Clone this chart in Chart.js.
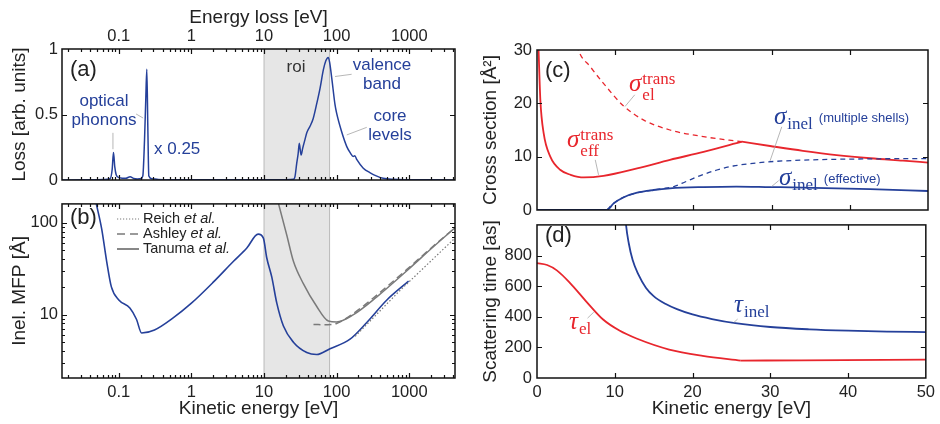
<!DOCTYPE html>
<html>
<head>
<meta charset="utf-8">
<title>Loss function, MFP, cross sections, scattering times</title>
<script src="https://cdn.jsdelivr.net/npm/chart.js@4.4.1/dist/chart.umd.min.js"></script>
<style>
  body { margin:0; background:#fff; font-family:"Liberation Sans", Arial, sans-serif; }
  #page { position:relative; width:940px; height:424px; overflow:hidden; }
  canvas { position:absolute; }
  .t { position:absolute; white-space:nowrap; line-height:1.1; }
  .cx { transform:translate(-50%,-50%); text-align:center; }
  .lx { transform:translate(0,-50%); }
  .blue { color:#25409a; }
  .red { color:#e8262d; }
  .ann { font-size:17px; }
  .tag { font-size:22px; color:#222; }
  .m { font-family:"Liberation Serif", "Times New Roman", serif; line-height:1; }
  .m i { font-size:25px; }
  .st { display:inline-block; vertical-align:middle; font-size:17px; line-height:0.95; margin-left:1px; }
  .st span { display:block; }
  .sb { font-size:17px; position:relative; top:5px; margin-left:1px; }
  .note { font-family:"Liberation Sans", Arial, sans-serif; font-size:13px; margin-left:6px; position:relative; top:-2px; }
  .leg { position:absolute; left:117px; font-size:14.5px; color:#222; transform:translate(0,-50%); white-space:nowrap; }
  .leg svg { vertical-align:middle; margin-right:4px; }
</style>
</head>
<body>
<div id="page">
  <canvas id="ca" width="470" height="200" style="left:0;top:0"></canvas>
  <canvas id="cb" width="470" height="234" style="left:0;top:190px"></canvas>
  <canvas id="cc" width="470" height="232" style="left:470px;top:0"></canvas>
  <canvas id="cd" width="470" height="214" style="left:470px;top:210px"></canvas>

  <div class="t tag lx" style="left:70px;top:69px">(a)</div>
  <div class="t ann blue cx" style="left:104px;top:111px">optical<br>phonons</div>
  <div class="t ann blue lx" style="left:154px;top:149px">x 0.25</div>
  <div class="t ann cx" style="left:296px;top:67px;color:#333">roi</div>
  <div class="t ann blue cx" style="left:382px;top:75px">valence<br>band</div>
  <div class="t ann blue cx" style="left:390px;top:126px">core<br>levels</div>

  <div class="t tag lx" style="left:70px;top:217px">(b)</div>
  <div class="leg" style="top:218px"><svg width="22" height="4"><line x1="0" y1="2" x2="22" y2="2" stroke="#7a7a7a" stroke-width="1.2" stroke-dasharray="1.2 1.8"/></svg>Reich <i>et al.</i></div>
  <div class="leg" style="top:233px"><svg width="22" height="4"><line x1="0" y1="2" x2="22" y2="2" stroke="#7a7a7a" stroke-width="1.6" stroke-dasharray="8 5"/></svg>Ashley <i>et al.</i></div>
  <div class="leg" style="top:248px"><svg width="22" height="4"><line x1="0" y1="2" x2="22" y2="2" stroke="#7a7a7a" stroke-width="1.8"/></svg>Tanuma <i>et al.</i></div>

  <div class="t tag lx" style="left:545px;top:70px">(c)</div>
  <div class="t m red lx" style="left:629px;top:87px"><i>σ</i><span class="st"><span>trans</span><span>el</span></span></div>
  <div class="t m red lx" style="left:567px;top:143px"><i>σ</i><span class="st"><span>trans</span><span>eff</span></span></div>
  <div class="t m blue lx" style="left:774px;top:115px"><i>σ</i><span class="sb">inel</span><span class="note">(multiple shells)</span></div>
  <div class="t m blue lx" style="left:779px;top:176px"><i>σ</i><span class="sb">inel</span><span class="note">(effective)</span></div>

  <div class="t tag lx" style="left:545px;top:235px">(d)</div>
  <div class="t m blue lx" style="left:734px;top:303px"><i>τ</i><span class="sb">inel</span></div>
  <div class="t m red lx" style="left:569px;top:320px"><i>τ</i><span class="sb">el</span></div>
</div>
<script>
// colores
const BLUE = '#25409a', RED = '#e8262d', GRAY = '#7a7a7a';

// (a) funcion de perdida [energia eV, valor]
const lossFn = [[0.0165,0],[0.04,0.001],[0.06,0.003],[0.069,0.005],[0.076,0.01],[0.081,0.08],[0.0844,0.21],[0.088,0.1],[0.092,0.04],[0.099,0.02],[0.11,0.014],[0.125,0.013],[0.143,0.025],[0.16,0.012],[0.18,0.008],[0.2,0.01],[0.214,0.03],[0.226,0.305],[0.235,0.61],[0.243,0.845],[0.251,0.4],[0.259,0.03],[0.285,0.01],[0.35,0.004],[0.6,0.002],[1,0.001],[10,0.001],[20,0.002],[25.5,0.005],[26.7,0.026],[28.2,0.127],[29.5,0.2],[30.6,0.28],[32.4,0.19],[34,0.24],[36.7,0.31],[38.8,0.36],[43,0.41],[47.6,0.47],[53.3,0.585],[59.1,0.7],[65.6,0.84],[71,0.91],[76.6,0.936],[80,0.9],[85.6,0.78],[95,0.575],[100,0.51],[117,0.37],[138,0.255],[155,0.205],[169,0.18],[178,0.185],[190,0.155],[233,0.09],[290,0.055],[358,0.03],[438,0.013],[600,0.005],[1000,0.002],[2000,0.001],[4270,0]];
const lossLeaders = [[0.083,0.36,0.083,0.235],[0.173,0.504,0.216,0.473],[95,0.79,161,0.807],[138,0.344,260,0.402]];
const roiRange = [10, 80];

// (b) camino libre medio [energia eV, MFP A]
const mfpCalc = [[0.045,220],[0.049,160],[0.058,86],[0.068,38],[0.079,20],[0.1,14.4],[0.142,11.8],[0.175,8.9],[0.206,6.3],[0.31,6.8],[0.56,9.2],[1,13.3],[2,22.5],[3.8,38],[5.8,53],[8.3,75],[9.8,68],[10.9,41.5],[12.8,25.5],[15,13.3],[18.5,7.5],[25.4,5.0],[38.8,3.86],[53,3.67],[81,4.25],[153,5.4],[260,8.2],[492,14.4],[980,23.1]];
const mfpTanuma = [[14,230],[15.7,165],[20.6,73],[25.4,38],[34.8,21.7],[53,12.3],[77,8.5],[100,8.3],[171,10],[358,15.6],[929,30],[2170,55],[4270,88]];
const mfpAshley = [[48,7.8],[75,7.75],[100,8.0],[171,10.3],[358,16.3],[929,31],[2170,56],[4270,88]];
const mfpReich = [[180,5.8],[752,18.4],[4270,68]];

// (c) secciones eficaces [energia eV, A^2]
const sigEffLow = [[0.15,32],[0.2,30],[0.43,20.6],[0.85,14.4],[1.7,10],[3,7.5],[4.3,6.6],[6,6.1],[8.5,6.4],[12.8,7.8],[17,9.4],[21.3,10.9],[26.2,12.8]];
const sigEffHigh = [[26.2,12.8],[29.8,12],[34,11.1],[38.3,10.3],[42.6,9.7],[46.8,9.25],[50,8.9]];
const sigEl = [[4.9,32.5],[5.3,30],[6.8,26.9],[8.5,23.75],[11,19.6],[13.6,16.9],[17,15],[21.3,13.75],[26.2,12.8]];
const sigInelMulti = [[8.94,0],[9.8,1.25],[11.1,2.4],[12.8,3.25],[14.9,3.75],[16,4.0],[17.5,4.4],[19,5.3],[20.8,6.4],[23,7.5],[25.1,8.25],[29.4,9.0],[33,9.3],[37.9,9.5],[44,9.6],[50,9.65]];
const sigInelEff = [[0,0],[8.94,0],[9.8,1.25],[11.1,2.4],[12.8,3.25],[14.9,3.75],[17,4.06],[21.3,4.3],[25.5,4.4],[29.8,4.3],[34,4.2],[38.3,4.06],[42.6,3.9],[50,3.56]];
const sigLeaders = [[11.25,19.4,12.5,21.6],[29.8,9.2,31.3,15.6],[30,4.4,30.9,5.5],[7.87,6.6,7.45,9.4]];

// (d) tiempos de dispersion [energia eV, as]
const tauElLow = [[0,750],[1.3,738],[2.55,703],[4.26,620],[6.4,496],[8.5,382],[10.6,310],[12.8,258],[17,186],[21.3,145],[26.2,114]];
const tauElHigh = [[26.2,114],[34,115],[50,120]];
const tauInel = [[11.3,1100],[11.45,1000],[11.8,880],[12.3,770],[13,680],[14,590],[15,535],[16.5,485],[18,450],[20,415],[22.5,385],[25.5,358],[30,333],[35,318],[40,309],[45,303],[50,300]];
const tauLeaders = [[6.5,391,7.3,430],[25.3,362,25.8,385]];

// ticks
const logTicks = [0.1, 1, 10, 100, 1000];
const mfpTicks = [10, 100];
const keTicks = [0, 10, 20, 30, 40, 50];
const sigTicks = [0, 10, 20, 30];
const tauTicks = [0, 200, 400, 600, 800];
const lossTicks = [0, 0.5, 1];

Chart.defaults.font.family = '"Liberation Sans", Arial, sans-serif';
Chart.defaults.color = '#222';
Chart.defaults.animation = false;
Chart.defaults.devicePixelRatio = 1;

function minors(lo, hi) {
  const out = [];
  for (let d = Math.pow(10, Math.floor(Math.log10(lo))); d < hi; d *= 10)
    for (let k = 2; k <= 9; k++) { const v = +(k * d).toPrecision(3); if (v > lo && v < hi) out.push(v); }
  return out;
}

const frame = {
  id: 'frame',
  beforeDatasetsDraw(chart, args, o) {
    if (!o.roi) return;
    const {ctx, chartArea: a, scales: {x}} = chart;
    const x1 = x.getPixelForValue(o.roi[0]), x2 = x.getPixelForValue(o.roi[1]);
    ctx.save();
    ctx.fillStyle = '#e6e6e6';
    ctx.fillRect(x1, a.top, x2 - x1, a.height);
    ctx.strokeStyle = '#bababa'; ctx.lineWidth = 1;
    ctx.beginPath();
    ctx.moveTo(x1, a.top); ctx.lineTo(x1, a.bottom);
    ctx.moveTo(x2, a.top); ctx.lineTo(x2, a.bottom);
    ctx.stroke();
    ctx.restore();
  },
  afterDatasetsDraw(chart, args, o) {
    const {ctx, chartArea: a, scales: {x, y}} = chart;
    ctx.save();
    ctx.strokeStyle = '#a5a5a5'; ctx.lineWidth = 0.8;
    (o.leaders || []).forEach(l => {
      ctx.beginPath();
      ctx.moveTo(x.getPixelForValue(l[0]), y.getPixelForValue(l[1]));
      ctx.lineTo(x.getPixelForValue(l[2]), y.getPixelForValue(l[3]));
      ctx.stroke();
    });
    ctx.strokeStyle = '#111'; ctx.lineWidth = 1.2;
    ctx.beginPath();
    const xt = (vals, len) => (vals || []).forEach(v => {
      const p = Math.round(x.getPixelForValue(v)) + 0.5;
      ctx.moveTo(p, a.bottom); ctx.lineTo(p, a.bottom - len);
      ctx.moveTo(p, a.top); ctx.lineTo(p, a.top + len);
    });
    const yt = (vals, len) => (vals || []).forEach(v => {
      const p = Math.round(y.getPixelForValue(v)) + 0.5;
      ctx.moveTo(a.left, p); ctx.lineTo(a.left + len, p);
      ctx.moveTo(a.right, p); ctx.lineTo(a.right - len, p);
    });
    xt(o.xMajor, 5); xt(o.xMinor, 3); yt(o.yMajor, 5); yt(o.yMinor, 3);
    ctx.stroke();
    ctx.lineWidth = 1.5;
    ctx.strokeRect(a.left, a.top, a.width, a.height);
    ctx.restore();
  }
};
Chart.register(frame);

function line(data, color, extra) {
  return Object.assign({
    data: data.map(p => ({x: p[0], y: p[1]})),
    borderColor: color, borderWidth: 1.6, pointRadius: 0, fill: false,
    cubicInterpolationMode: 'monotone'
  }, extra || {});
}

function axis(type, o) {
  const s = {
    type: type,
    min: o.min, max: o.max,
    position: o.pos,
    display: o.show !== false,
    grid: { display: false, drawTicks: false },
    border: { display: false },
    ticks: { font: { size: 16.5 }, color: '#222', padding: o.pad || 4, autoSkip: false, maxRotation: 0, callback: v => String(v) },
    title: { display: !!o.title, text: o.title, font: { size: 19 }, color: '#222', padding: o.tpad || 0 },
    afterBuildTicks: sc => { sc.ticks = o.ticks.map(v => ({ value: v })); }
  };
  if (o.size) s.afterFit = sc => { if (sc.isHorizontal()) sc.height = o.size; else sc.width = o.size; };
  return s;
}

function chart(id, datasets, padding, scales, frameOpts) {
  return new Chart(document.getElementById(id), {
    type: 'line',
    data: { datasets: datasets },
    options: {
      responsive: false, maintainAspectRatio: false, animation: false,
      layout: { padding: padding },
      scales: scales,
      plugins: { legend: { display: false }, tooltip: { enabled: false }, frame: frameOpts }
    }
  });
}

// (a)
chart('ca', [line(lossFn, BLUE, { borderWidth: 1.5 })],
  { left: 0, right: 15, top: 0, bottom: 20 },
  {
    x: axis('logarithmic', { min: 0.0165, max: 4270, pos: 'top', ticks: logTicks, title: 'Energy loss [eV]', tpad: { top: 6, bottom: 0 }, size: 49, pad: 3 }),
    y: axis('linear', { min: 0, max: 1, pos: 'left', ticks: lossTicks, title: 'Loss [arb. units]', tpad: { top: 8, bottom: 0 }, size: 62 })
  },
  { roi: roiRange, leaders: lossLeaders, xMajor: logTicks, xMinor: minors(0.0165, 4270), yMajor: [0.5] });

// (b)
chart('cb', [
    line(mfpReich, GRAY, { borderWidth: 1.2, borderDash: [1.5, 2], cubicInterpolationMode: 'default', tension: 0 }),
    line(mfpAshley, GRAY, { borderWidth: 1.5, borderDash: [7, 4] }),
    line(mfpTanuma, GRAY, { borderWidth: 1.5 }),
    line(mfpCalc, BLUE, { borderWidth: 1.6 })
  ],
  { left: 0, right: 15, top: 6, bottom: 0 },
  {
    x: axis('logarithmic', { min: 0.0165, max: 4270, pos: 'bottom', ticks: logTicks, title: 'Kinetic energy [eV]', tpad: { top: 0, bottom: 4 }, size: 46, pad: 5 }),
    y: axis('logarithmic', { min: 2.04, max: 160, pos: 'left', ticks: mfpTicks, title: 'Inel. MFP [Å]', tpad: { top: 8, bottom: 0 }, size: 62 })
  },
  { roi: roiRange, xMajor: logTicks, xMinor: minors(0.0165, 4270), yMajor: mfpTicks, yMinor: minors(2.04, 160) });

// (c)
chart('cc', [
    line(sigEl, RED, { borderWidth: 1.3, borderDash: [5, 4] }),
    line(sigInelMulti, BLUE, { borderWidth: 1.3, borderDash: [5, 4] }),
    line(sigEffLow, RED, { borderWidth: 1.8 }),
    line(sigEffHigh, RED, { borderWidth: 1.8 }),
    line(sigInelEff, BLUE, { borderWidth: 1.8 })
  ],
  { left: 0, right: 12, top: 50, bottom: 22 },
  {
    x: axis('linear', { min: 0, max: 50, pos: 'bottom', ticks: keTicks, show: false }),
    y: axis('linear', { min: 0, max: 30, pos: 'left', ticks: sigTicks, title: 'Cross section [Å²]', tpad: { top: 9, bottom: 0 }, size: 67, pad: 5 })
  },
  { leaders: sigLeaders, xMajor: [10, 20, 30, 40], yMajor: [10, 20] });

// (d)
chart('cd', [
    line(tauElLow, RED, { borderWidth: 1.8 }),
    line(tauElHigh, RED, { borderWidth: 1.8 }),
    line(tauInel, BLUE, { borderWidth: 1.8 })
  ],
  { left: 0, right: 12, top: 7, bottom: 0 },
  {
    x: axis('linear', { min: 0, max: 50, pos: 'bottom', ticks: keTicks, title: 'Kinetic energy [eV]', tpad: { top: 0, bottom: 4 }, size: 46, pad: 5 }),
    y: axis('linear', { min: 0, max: 1000, pos: 'left', ticks: tauTicks, title: 'Scattering time [as]', tpad: { top: 9, bottom: 0 }, size: 67, pad: 5 })
  },
  { leaders: tauLeaders, xMajor: [10, 20, 30, 40], yMajor: [200, 400, 600, 800] });
</script>
</body>
</html>
